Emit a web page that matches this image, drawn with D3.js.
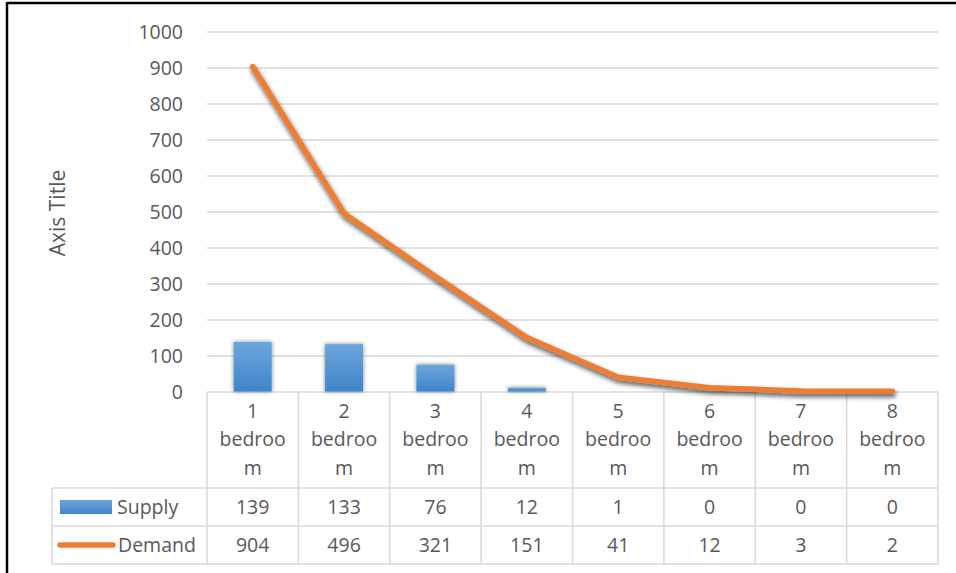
<!DOCTYPE html>
<html><head><meta charset="utf-8">
<script src="https://cdn.jsdelivr.net/npm/d3@7"></script>
<style>
html,body{margin:0;padding:0;background:#fff;}
svg text{font-family:"Open Sans",sans-serif;fill:#595959;}
</style></head>
<body>
<svg id="c" width="956" height="573"></svg>
<script>
const categories = ["1 bedroom","2 bedroom","3 bedroom","4 bedroom","5 bedroom","6 bedroom","7 bedroom","8 bedroom"];
const categoryLines = [["1","bedroo","m"],["2","bedroo","m"],["3","bedroo","m"],["4","bedroo","m"],["5","bedroo","m"],["6","bedroo","m"],["7","bedroo","m"],["8","bedroo","m"]];
const supply = [139,133,76,12,1,0,0,0];
const demand = [904,496,321,151,41,12,3,2];
const yTicks = [0,100,200,300,400,500,600,700,800,900,1000];
const seriesNames = ["Supply","Demand"];
const axisTitle = "Axis Title";

const svg = d3.select("#c");
const L = 207, R = 938, Y0 = 392, Y1 = 32;
const legL = 52;
const rowH = [96, 38, 38];
const fs = 19.5;

const defs = svg.append("defs");
const grad = defs.append("linearGradient").attr("id","bg").attr("x1",0).attr("y1",0).attr("x2",0).attr("y2",1);
grad.append("stop").attr("offset","0%").attr("stop-color","#6ea5db");
grad.append("stop").attr("offset","100%").attr("stop-color","#3e86cb");
const gl = defs.append("filter").attr("id","glow").attr("x","-30%").attr("y","-30%").attr("width","160%").attr("height","160%");
gl.append("feGaussianBlur").attr("in","SourceAlpha").attr("stdDeviation",2).attr("result","b");
gl.append("feComponentTransfer").attr("in","b").attr("result","b2").append("feFuncA").attr("type","linear").attr("slope",0.5);
const m1 = gl.append("feMerge"); m1.append("feMergeNode").attr("in","b2"); m1.append("feMergeNode").attr("in","SourceGraphic");
const sh = defs.append("filter").attr("id","shadow").attr("x","-10%").attr("y","-10%").attr("width","130%").attr("height","130%");
sh.append("feGaussianBlur").attr("in","SourceAlpha").attr("stdDeviation",2.5).attr("result","b");
sh.append("feOffset").attr("in","b").attr("dx",1).attr("dy",3).attr("result","o");
sh.append("feComponentTransfer").attr("in","o").attr("result","o2").append("feFuncA").attr("type","linear").attr("slope",0.7);
const m2 = sh.append("feMerge"); m2.append("feMergeNode").attr("in","o2"); m2.append("feMergeNode").attr("in","SourceGraphic");

const x = d3.scaleBand().domain(categories).range([L,R]).paddingInner(0).paddingOuter(0);
const y = d3.scaleLinear().domain([0,1000]).range([Y0,Y1]);

// frame
svg.append("line").attr("x1",7).attr("x2",956).attr("y1",3).attr("y2",3).attr("stroke","#000").attr("stroke-width",2.5);
svg.append("line").attr("x1",7).attr("x2",7).attr("y1",2).attr("y2",573).attr("stroke","#000").attr("stroke-width",2.5);

// gridlines + y labels
const yAxis = d3.axisLeft(y).tickValues(yTicks).tickSize(0).tickPadding(24).tickFormat(d3.format("d"));
const ga = svg.append("g").attr("transform",`translate(${L},0)`).call(yAxis);
ga.select(".domain").remove();
ga.selectAll("text").attr("font-size",fs).style("fill","#595959").attr("dy","0.35em").attr("font-family","Open Sans");
svg.append("g").selectAll("line").data(yTicks.filter(d=>d>0)).join("line")
  .attr("x1",L).attr("x2",R).attr("y1",d=>y(d)).attr("y2",d=>y(d))
  .attr("stroke","#d9d9d9").attr("stroke-width",1.5);

svg.append("text").attr("transform",`translate(65,${(Y0+Y1)/2+1}) rotate(-90)`)
  .attr("text-anchor","middle").attr("font-size",21).text(axisTitle);

// table
const tbl = svg.append("g").attr("stroke","#d9d9d9").attr("stroke-width",1.5);
const r1 = Y0 + rowH[0], r2 = r1 + rowH[1], r3 = r2 + rowH[2];
tbl.append("line").attr("x1",L).attr("x2",R).attr("y1",Y0).attr("y2",Y0);
[r1,r2,r3].forEach(v=>tbl.append("line").attr("x1",legL).attr("x2",R).attr("y1",v).attr("y2",v));
tbl.append("line").attr("x1",legL).attr("x2",legL).attr("y1",r1).attr("y2",r3);
const bounds = categories.map(c=>x(c)).concat([R]);
tbl.selectAll("line.v").data(bounds).join("line").attr("class","v")
  .attr("x1",d=>d).attr("x2",d=>d).attr("y1",Y0).attr("y2",r3);

// category labels
const cl = svg.append("g");
categories.forEach((c,i)=>{
  categoryLines[i].forEach((t,j)=>{
    cl.append("text").attr("x",x(c)+x.bandwidth()/2).attr("y",Y0+19+j*28.5)
      .attr("dy","0.35em").attr("text-anchor","middle").attr("font-size",fs).text(t);
  });
});
// values
const vg = svg.append("g");
[supply,demand].forEach((arr,k)=>{
  const cy = k===0 ? (r1+r2)/2 : (r2+r3)/2;
  arr.forEach((v,i)=>{
    vg.append("text").attr("x",x(categories[i])+x.bandwidth()/2).attr("y",cy)
      .attr("dy","0.35em").attr("text-anchor","middle").attr("font-size",fs).text(v);
  });
});
// legend keys
svg.append("rect").attr("x",60).attr("y",r1+12).attr("width",52).attr("height",14).attr("fill","url(#bg)");
svg.append("text").attr("x",117).attr("y",(r1+r2)/2).attr("dy","0.35em").attr("font-size",fs).text(seriesNames[0]);
svg.append("line").attr("x1",60).attr("x2",113).attr("y1",(r2+r3)/2).attr("y2",(r2+r3)/2)
  .attr("stroke","#ED7D31").attr("stroke-width",5.5).attr("stroke-linecap","round");
svg.append("text").attr("x",118).attr("y",(r2+r3)/2).attr("dy","0.35em").attr("font-size",fs).text(seriesNames[1]);

// bars
const bw = 38;
svg.append("g").attr("filter","url(#glow)").selectAll("rect").data(supply).join("rect")
  .attr("x",(d,i)=>x(categories[i])+x.bandwidth()/2-bw/2)
  .attr("y",d=>y(d)).attr("width",bw).attr("height",d=>Y0-y(d)-0.5)
  .attr("fill","url(#bg)");

// line
const lineGen = d3.line().x((d,i)=>x(categories[i])+x.bandwidth()/2).y(d=>y(d));
svg.append("path").datum(demand).attr("d",lineGen).attr("fill","none")
  .attr("stroke","#ED7D31").attr("stroke-width",5.5).attr("stroke-linecap","round").attr("stroke-linejoin","round")
  .attr("filter","url(#shadow)");
</script>
</body></html>
